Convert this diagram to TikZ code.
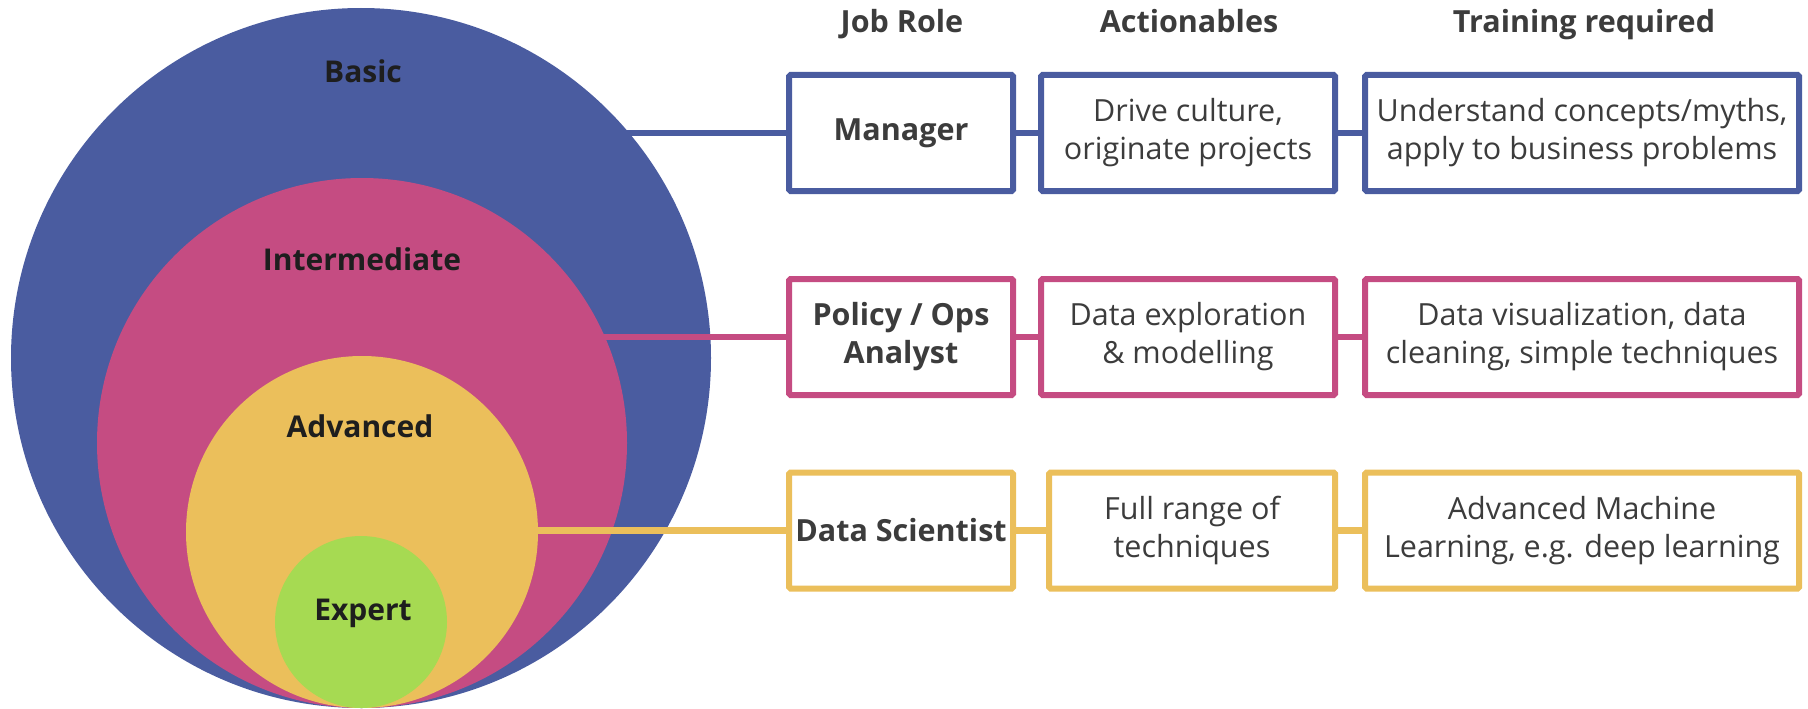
\documentclass[tikz,border=0pt]{standalone}
\usepackage{fontspec}
\setmainfont{Open Sans}
\definecolor{cblue}{HTML}{4A5CA0}
\definecolor{cpink}{HTML}{C54C82}
\definecolor{cyellow}{HTML}{EBBF5B}
\definecolor{cgreen}{HTML}{A6DA52}
\definecolor{boxtext}{HTML}{3C3C3C}
\definecolor{labtext}{HTML}{1E1E1E}
\begin{document}
\begin{tikzpicture}[x=1pt,y=-1pt,
  boxn/.style={draw, line width=6pt, rounded corners=1.5pt, fill=white, inner sep=0pt,
    minimum height=116pt, align=center, text=boxtext,
    font=\fontsize{30.5}{38}\selectfont},
  conn/.style={line width=6.5pt},
  ring/.style={circle, inner sep=0pt},
  lab/.style={anchor=base, text=labtext, font=\fontsize{30}{36}\selectfont\bfseries},
  head/.style={anchor=base, text=boxtext, font=\fontsize{30.5}{36}\selectfont\bfseries}]
\useasboundingbox (0,0) rectangle (1808,709);
% headers
\node[head] (h1) at (902,33) {Job Role};
\node[head] (h2) at (1189,33) {Actionables};
\node[head] (h3) at (1584,33) {Training required};
% row 1
\node[boxn, draw=cblue, minimum width=224pt] (man) at (901,133) {\bfseries Manager};
\node[boxn, draw=cblue, minimum width=294pt] (act1) at (1188,133) {Drive culture,\\originate projects};
\node[boxn, draw=cblue, minimum width=434pt] (tr1) at (1582,133) {Understand concepts/myths,\\apply to business problems};
% row 2
\node[boxn, draw=cpink, minimum width=224pt] (pol) at (901,337) {\bfseries Policy / Ops\\\bfseries Analyst};
\node[boxn, draw=cpink, minimum width=294pt] (act2) at (1188,337) {Data exploration\\\& modelling};
\node[boxn, draw=cpink, minimum width=434pt] (tr2) at (1582,337) {Data visualization, data\\cleaning, simple techniques};
% row 3
\node[boxn, draw=cyellow, minimum width=224pt] (ds) at (901,530.5) {\bfseries Data Scientist};
\node[boxn, draw=cyellow, minimum width=286pt] (act3) at (1192,530.5) {Full range of\\techniques};
\node[boxn, draw=cyellow, minimum width=434pt] (tr3) at (1582,530.5) {Advanced Machine\\Learning, e.g. deep learning};
% connectors between boxes
\draw[conn, cblue] (man.east) -- (act1.west);
\draw[conn, cblue] (act1.east) -- (tr1.west);
\draw[conn, cpink] (pol.east) -- (act2.west);
\draw[conn, cpink] (act2.east) -- (tr2.west);
\draw[conn, cyellow] (ds.east) -- (act3.west);
\draw[conn, cyellow] (act3.east) -- (tr3.west);
% circle centres
\coordinate (cbc) at (361,358);
\coordinate (cpc) at (362,443);
\coordinate (cyc) at (362,532);
\coordinate (cgc) at (361,622);
% circles and their connectors
\draw[conn, cblue] (cbc |- man.west) -- (man.west);
\node[ring, fill=cblue, minimum size=700pt] (cb) at (cbc) {};
\draw[conn, cpink] (cpc |- pol.west) -- (pol.west);
\node[ring, fill=cpink, minimum size=530pt] (cp) at (cpc) {};
\draw[conn, cyellow] (cyc |- ds.west) -- (ds.west);
\node[ring, fill=cyellow, minimum size=352pt] (cy) at (cyc) {};
\node[ring, fill=cgreen, minimum size=172pt] (cg) at (cgc) {};
% labels
\node[lab] (lb) at (363,83) {Basic};
\node[lab] (li) at (362,270) {Intermediate};
\node[lab] (la) at (360,437) {Advanced};
\node[lab] (le) at (363,620) {Expert};
\end{tikzpicture}
\end{document}
